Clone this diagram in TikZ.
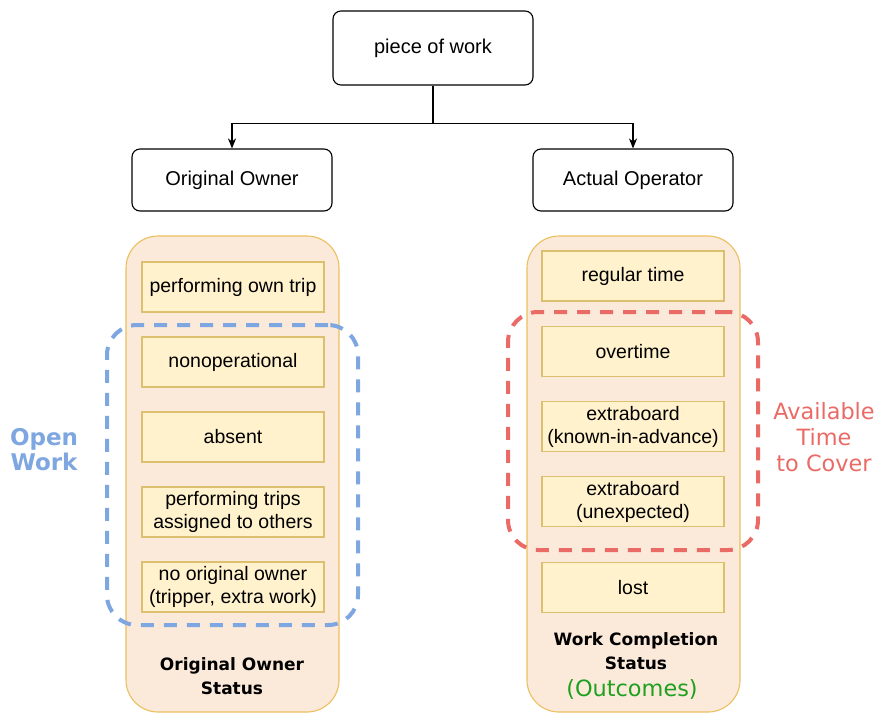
\documentclass[tikz,border=0pt]{standalone}
\usepackage{fontspec}
\setmainfont{Liberation Sans}
\newfontfamily\labelfont{DejaVu Sans}
\usetikzlibrary{arrows.meta}
\definecolor{groupfill}{HTML}{FBE9DA}
\definecolor{groupdraw}{HTML}{EBC05E}
\definecolor{itemfill}{HTML}{FFF2CC}
\definecolor{itemdraw}{HTML}{DCC070}
\definecolor{openblue}{HTML}{7EA6E0}
\definecolor{coverred}{HTML}{EA6B66}
\definecolor{outgreen}{HTML}{1FA01F}

\begin{document}
\begin{tikzpicture}[x=1pt, y=-1pt,
    topbox/.style={draw=black, fill=white, rounded corners=8pt, line width=1.1pt,
        minimum width=200pt, font=\fontsize{20}{23}\selectfont},
    groupbox/.style={draw=groupdraw, fill=groupfill, rounded corners=32pt, line width=1.1pt,
        minimum width=213pt, minimum height=476pt},
    itembox/.style={draw=itemdraw, fill=itemfill, line width=1.1pt, minimum width=182pt,
        minimum height=50pt, inner sep=0pt, align=center, font=\fontsize{19.5}{23}\selectfont},
    groupname/.style={align=center, inner sep=0pt, font=\labelfont\bfseries\fontsize{17}{24}\selectfont},
    zone/.style={draw=#1, line width=4pt, rounded corners=30pt, dash pattern=on 13pt off 10pt},
    zonename/.style={text=#1, align=center, inner sep=0pt},
    arr/.style={-{Stealth[length=10pt, width=8pt, inset=3pt]}, line width=1.1pt}
]
    \useasboundingbox (0,0) rectangle (878,713);

    \node[topbox, minimum height=74pt] at (433,48) (work) {piece of work};
    \node[topbox, minimum height=62pt] at (232,180) (owner) {Original Owner};
    \node[topbox, minimum height=62pt] at (633,180) (operator) {Actual Operator};

    \draw[arr] (work.south) -- ++(0,38) -| (owner.north);
    \draw[arr] (work.south) -- ++(0,38) -| (operator.north);

    % original owner side
    \node[groupbox] at (232.5,474) (ownergroup) {};
    \node[itembox] at (233,287) (own) {performing own trip};
    \node[itembox] at (233,362) (nonop) {nonoperational};
    \node[itembox] at (233,437) (absent) {absent};
    \node[itembox] at (233,512) (others) {performing trips\\assigned to others};
    \node[itembox] at (233,587) (noowner) {no original owner\\(tripper, extra work)};
    \node[groupname] at (232,676) (ownerstatus) {Original Owner\\Status};

    \node[zone=openblue, minimum width=251pt, minimum height=300pt] at (232.5,475) (openzone) {};
    \node[zonename=openblue, font=\labelfont\bfseries\fontsize{23}{25}\selectfont] at (44,450) (open) {Open\\Work};

    % actual operator side
    \node[groupbox] at (633.5,474) (opgroup) {};
    \node[itembox] at (633,276) (regular) {regular time};
    \node[itembox] at (633,351.5) (overtime) {overtime};
    \node[itembox] at (633,426.5) (known) {extraboard\\(known-in-advance)};
    \node[itembox] at (633,501.5) (unexp) {extraboard\\(unexpected)};
    \node[itembox] at (633,587.5) (lost) {lost};
    \node[groupname] at (636,651) (opstatus) {Work Completion\\Status};
    \node[text=outgreen, inner sep=0pt, font=\labelfont\fontsize{22.4}{25}\selectfont] at (632,689) (outcomes) {(Outcomes)};

    \node[zone=coverred, minimum width=250pt, minimum height=238pt] at (633,431) (coverzone) {};
    \node[zonename=coverred, font=\labelfont\fontsize{22.4}{26}\selectfont] at (824,437) (cover) {Available\\Time\\ to Cover};
\end{tikzpicture}
\end{document}
